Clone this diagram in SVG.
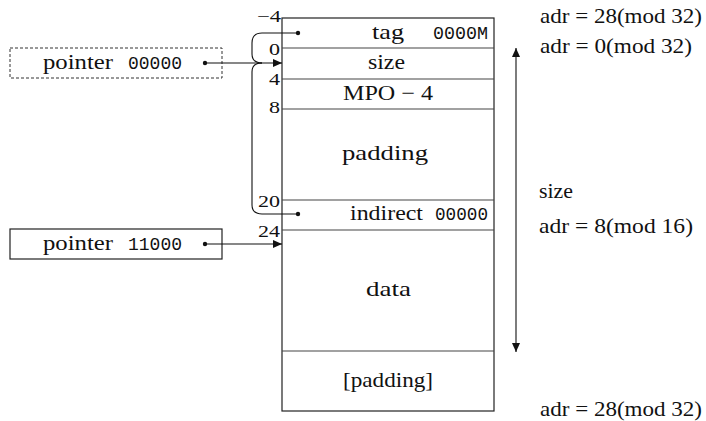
<svg xmlns="http://www.w3.org/2000/svg" width="706" height="421" viewBox="0 0 706 421">
<style>
.t{font-family:'Liberation Serif','Times New Roman',serif;font-size:21px;fill:#111}
.l{font-family:'Liberation Serif','Times New Roman',serif;font-size:17px;fill:#111}
.m{font-family:'Liberation Mono','Courier New',monospace;font-size:18px;fill:#111}
.box{fill:#fff;stroke:#222;stroke-width:1.2}
.sep{stroke:#444;stroke-width:1.2}
.ln{fill:none;stroke:#111;stroke-width:1.1}
.dot{fill:#111}
</style>
<defs>
<marker id="ah" markerWidth="10" markerHeight="8" refX="9" refY="4" orient="auto" markerUnits="userSpaceOnUse">
<path d="M0,0 L9,4 L0,8 Z" fill="#111"/>
</marker>
</defs>
<rect width="706" height="421" fill="#fff"/>

<g id="block">
<rect class="box" x="282" y="18" width="212" height="393"/>
<line class="sep" x1="282" y1="48" x2="494" y2="48"/>
<line class="sep" x1="282" y1="79" x2="494" y2="79"/>
<line class="sep" x1="282" y1="109" x2="494" y2="109"/>
<line class="sep" x1="282" y1="200" x2="494" y2="200"/>
<line class="sep" x1="282" y1="230" x2="494" y2="230"/>
<line class="sep" x1="282" y1="351" x2="494" y2="351"/>
</g>

<g id="row-tag">
<text class="t" x="372" y="39" textLength="32" lengthAdjust="spacingAndGlyphs">tag</text>
<text class="m" x="433" y="39" textLength="55" lengthAdjust="spacingAndGlyphs">0000M</text>
<circle class="dot" cx="298" cy="33" r="2.2"/>
</g>
<g id="row-size"><text class="t" x="368" y="69" textLength="37" lengthAdjust="spacingAndGlyphs">size</text></g>
<g id="row-mpo"><text class="t" x="343" y="100" textLength="90" lengthAdjust="spacingAndGlyphs">MPO − 4</text></g>
<g id="row-padding"><text class="t" x="342" y="160" textLength="86" lengthAdjust="spacingAndGlyphs">padding</text></g>
<g id="row-indirect">
<text class="t" x="350" y="220" textLength="73" lengthAdjust="spacingAndGlyphs">indirect</text>
<text class="m" x="435" y="220" textLength="53" lengthAdjust="spacingAndGlyphs">00000</text>
<circle class="dot" cx="298" cy="214" r="2.2"/>
</g>
<g id="row-data"><text class="t" x="366" y="296" textLength="45" lengthAdjust="spacingAndGlyphs">data</text></g>
<g id="row-padding2"><text class="t" x="343" y="387" textLength="90" lengthAdjust="spacingAndGlyphs">[padding]</text></g>

<g id="offsets">
<text class="l" x="257" y="22" textLength="24" lengthAdjust="spacingAndGlyphs">−4</text>
<text class="l" transform="translate(269,55) scale(1.3,1)">0</text>
<text class="l" transform="translate(269,85) scale(1.3,1)">4</text>
<text class="l" transform="translate(269,113) scale(1.3,1)">8</text>
<text class="l" x="258" y="207" textLength="22" lengthAdjust="spacingAndGlyphs">20</text>
<text class="l" x="258" y="237" textLength="22" lengthAdjust="spacingAndGlyphs">24</text>
</g>

<g id="pointer1">
<rect x="10" y="48" width="212" height="30" fill="#fff" stroke="#333" stroke-width="1" stroke-dasharray="3,2"/>
<text class="t" x="43" y="69" textLength="70" lengthAdjust="spacingAndGlyphs">pointer</text>
<text class="m" x="128" y="69" textLength="54" lengthAdjust="spacingAndGlyphs">00000</text>
<circle class="dot" cx="205" cy="63" r="2.2"/>
</g>
<g id="pointer2">
<rect x="10" y="229" width="212" height="30" fill="#fff" stroke="#222" stroke-width="1.2"/>
<text class="t" x="43" y="250" textLength="70" lengthAdjust="spacingAndGlyphs">pointer</text>
<text class="m" x="128" y="250" textLength="54" lengthAdjust="spacingAndGlyphs">11000</text>
<circle class="dot" cx="205" cy="244" r="2.2"/>
</g>

<g id="annotations">
<text class="t" x="540" y="23" textLength="162" lengthAdjust="spacingAndGlyphs">adr = 28(mod 32)</text>
<text class="t" x="540" y="53" textLength="152" lengthAdjust="spacingAndGlyphs">adr = 0(mod 32)</text>
<text class="t" x="539" y="198" textLength="34" lengthAdjust="spacingAndGlyphs">size</text>
<text class="t" x="539" y="233" textLength="154" lengthAdjust="spacingAndGlyphs">adr = 8(mod 16)</text>
<text class="t" x="540" y="416" textLength="162" lengthAdjust="spacingAndGlyphs">adr = 28(mod 32)</text>
</g>

<g id="connectors">
<line class="ln" x1="205" y1="63" x2="282" y2="63" marker-end="url(#ah)"/>
<line class="ln" x1="205" y1="244" x2="282" y2="244" marker-end="url(#ah)"/>
<path class="ln" d="M298,33 H262 Q252,33 252,43 V54 Q252,63 262,63"/>
<path class="ln" d="M262,63 Q252,63 252,72 V205 Q252,214 262,214 H298"/>
<line class="ln" x1="516" y1="200" x2="516" y2="48" marker-end="url(#ah)"/>
<line class="ln" x1="516" y1="200" x2="516" y2="352" marker-end="url(#ah)"/>
</g>
</svg>
